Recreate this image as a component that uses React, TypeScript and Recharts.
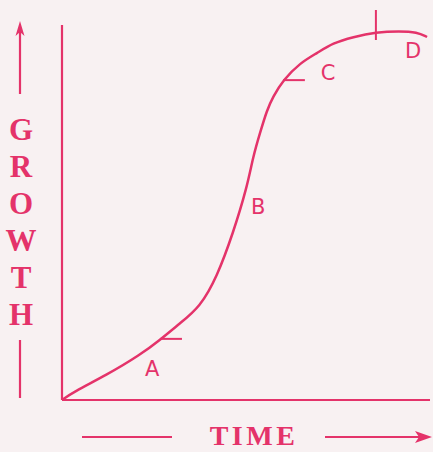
import React from 'react';
import { ComposedChart, Line, XAxis, YAxis, ReferenceLine, ReferenceDot, Label } from 'recharts';

// Sigmoid growth curve (arbitrary units: time 0-100, growth 0-100)
const time = [0, 3.0, 12.2, 21.2, 26.6, 32.1, 37.5, 42.1, 46.5, 50.3, 51.9, 53.8, 55.7, 57.3, 60.1, 64.7, 69.3, 73.6, 79.1, 85.3, 91.8, 96.5, 99.2];
const growth = [0, 2.1, 6.7, 12.0, 16.0, 20.5, 24.8, 32.8, 44.5, 56.8, 64.8, 71.2, 77.3, 80.8, 85.3, 89.9, 92.5, 95.2, 96.8, 98.1, 98.4, 98.1, 96.8];

const phaseLabels = ['A', 'B', 'C', 'D'];
const phaseLabelTime = [24.5, 53.3, 72.3, 95.4];
const phaseLabelGrowth = [8.5, 51.5, 87.2, 93.3];

// phase boundary ticks
const tickA = [{ x: 26.6, y: 16.3 }, { x: 32.6, y: 16.3 }];
const tickC = [{ x: 60.1, y: 85.3 }, { x: 66.0, y: 85.3 }];
const tickD = [{ x: 85.3, y: 96.0 }, { x: 85.3, y: 104 }];

const yTitle = ['G', 'R', 'O', 'W', 'T', 'H'];
const xTitle = 'TIME';

const data = time.map((t, i) => ({ t, g: growth[i] }));

const PINK = '#e4336a';
const BG = '#f8f1f2';

const GrowthTitle = () => (
  <g>
    <line x1={20} y1={30} x2={20} y2={94} stroke={PINK} strokeWidth={2.2} />
    <path d="M20,21 L15.5,36 L20,32 L24.5,36 Z" fill={PINK} />
    {yTitle.map((ch, i) => (
      <text key={ch + i} x={21} y={140 + i * 37} textAnchor="middle" fontFamily="Liberation Serif, serif" fontWeight="bold" fontSize={31} fill={PINK}>
        {ch}
      </text>
    ))}
    <line x1={20} y1={340} x2={20} y2={398} stroke={PINK} strokeWidth={2.2} />
  </g>
);

const TimeTitle = () => (
  <g>
    <line x1={82} y1={437} x2={172} y2={437} stroke={PINK} strokeWidth={2.2} />
    <text x={254} y={445} textAnchor="middle" fontFamily="Liberation Serif, serif" fontWeight="bold" fontSize={28} letterSpacing={3.5} fill={PINK}>
      {xTitle}
    </text>
    <line x1={325} y1={437} x2={420} y2={437} stroke={PINK} strokeWidth={2.2} />
    <path d="M432,437 L415,431 L419,437 L415,443 Z" fill={PINK} />
  </g>
);

export default function App() {
  return (
    <div style={{ position: 'absolute', left: 0, top: 0, width: 433, height: 452, background: BG, overflow: 'hidden' }}>
      <ComposedChart width={433} height={452} data={data} margin={{ top: 25, right: 3, bottom: 0, left: 0 }}>
        <XAxis
          type="number"
          dataKey="t"
          domain={[0, 100]}
          height={52}
          tick={false}
          tickLine={false}
          axisLine={{ stroke: PINK, strokeWidth: 2.2 }}
        >
          <Label content={() => <TimeTitle />} />
        </XAxis>
        <YAxis
          type="number"
          domain={[0, 100]}
          width={62}
          tick={false}
          tickLine={false}
          axisLine={{ stroke: PINK, strokeWidth: 2.2 }}
        >
          <Label content={() => <GrowthTitle />} />
        </YAxis>
        <Line
          type="basis"
          dataKey="g"
          stroke={PINK}
          strokeWidth={2.5}
          dot={false}
          activeDot={false}
          isAnimationActive={false}
        />
        <ReferenceLine segment={tickA} stroke={PINK} strokeWidth={2} ifOverflow="visible" />
        <ReferenceLine segment={tickC} stroke={PINK} strokeWidth={2} ifOverflow="visible" />
        <ReferenceLine segment={tickD} stroke={PINK} strokeWidth={2} ifOverflow="visible" />
        {phaseLabels.map((lab, i) => (
          <ReferenceDot
            key={lab}
            x={phaseLabelTime[i]}
            y={phaseLabelGrowth[i]}
            r={0}
            ifOverflow="visible"
            label={{ value: lab, position: 'center', fill: PINK, fontSize: 21, fontFamily: 'DejaVu Sans, sans-serif' }}
          />
        ))}
      </ComposedChart>
    </div>
  );
}
